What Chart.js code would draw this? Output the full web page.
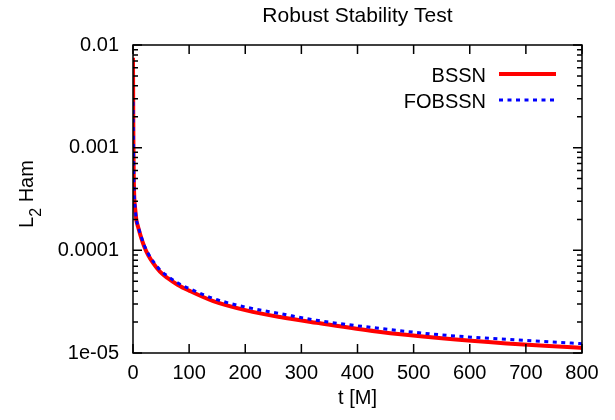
<!DOCTYPE html>
<html>
<head>
<meta charset="utf-8">
<script src="https://cdn.jsdelivr.net/npm/chart.js@4.4.0/dist/chart.umd.min.js"></script>
<style>
    html, body { margin: 0; padding: 0; background: #fff; }
</style>
</head>
<body>
<canvas id="stabilityChart" width="615" height="420"></canvas>
<script>

/* ==========================
   DATA
========================== */

const timeValues = [0, 0.3, 0.7, 1.2, 2, 4, 6, 9, 14, 20, 27, 36, 48, 62, 80, 100, 143, 202, 262, 327, 434, 550, 666, 790, 800];

const bssnValues = [7.5e-3, 3e-3, 1.2e-3, 6e-4, 3.6e-4, 2.5e-4, 1.97e-4, 1.7e-4, 1.36e-4, 1.09e-4, 9.0e-5, 7.5e-5, 6.2e-5, 5.35e-5, 4.6e-5, 4.05e-5, 3.2e-5, 2.6e-5, 2.24e-5, 1.97e-5, 1.62e-5, 1.39e-5, 1.24e-5, 1.13e-5, 1.12e-5];

const fobssnValues = [2.8e-3, 2e-3, 1.2e-3, 6.2e-4, 3.7e-4, 2.55e-4, 2.0e-4, 1.73e-4, 1.39e-4, 1.12e-4, 9.3e-5, 7.8e-5, 6.45e-5, 5.6e-5, 4.8e-5, 4.25e-5, 3.4e-5, 2.79e-5, 2.42e-5, 2.08e-5, 1.75e-5, 1.5e-5, 1.36e-5, 1.24e-5, 1.23e-5];

const seriesNames = ["BSSN", "FOBSSN"];

const xTickValues = [0, 100, 200, 300, 400, 500, 600, 700, 800];

const yTickValues = [1e-5, 1e-4, 1e-3, 1e-2];
const yTickLabels = ["1e-05", "0.0001", "0.001", "0.01"];

const FONT = "'Liberation Sans', Arial, sans-serif";

function toPoints(values) {
    return timeValues.map((t, i) => ({ x: t, y: values[i] }));
}

/* ==========================
   FRAME, TICKS, LEGEND, TITLES
========================== */

const framePlugin = {

    id: "frame",

    afterDatasetsDraw(chart) {

        const ctx = chart.ctx;
        const area = chart.chartArea;
        const xs = chart.scales.x;
        const ys = chart.scales.y;

        ctx.save();
        ctx.strokeStyle = "#000";
        ctx.lineWidth = 1.5;
        ctx.setLineDash([]);

        ctx.strokeRect(area.left, area.top, area.right - area.left, area.bottom - area.top);

        ctx.beginPath();

        xTickValues.forEach(v => {
            const px = xs.getPixelForValue(v);
            ctx.moveTo(px, area.bottom);
            ctx.lineTo(px, area.bottom - 9);
            ctx.moveTo(px, area.top);
            ctx.lineTo(px, area.top + 9);
        });

        yTickValues.forEach(v => {
            const py = ys.getPixelForValue(v);
            ctx.moveTo(area.left, py);
            ctx.lineTo(area.left + 9, py);
            ctx.moveTo(area.right, py);
            ctx.lineTo(area.right - 9, py);
        });

        for (let d = 0; d < yTickValues.length - 1; d++) {
            for (let m = 2; m <= 9; m++) {
                const py = ys.getPixelForValue(yTickValues[d] * m);
                ctx.moveTo(area.left, py);
                ctx.lineTo(area.left + 5, py);
                ctx.moveTo(area.right, py);
                ctx.lineTo(area.right - 5, py);
            }
        }

        ctx.stroke();

        // legend
        ctx.font = "20px " + FONT;
        ctx.fillStyle = "#000";
        ctx.textAlign = "right";
        ctx.textBaseline = "alphabetic";

        chart.data.datasets.forEach((ds, i) => {
            const y = 74 + i * 26;
            ctx.fillText(ds.label, 486, y + 7.5);
            ctx.strokeStyle = ds.borderColor;
            ctx.lineWidth = ds.borderWidth;
            ctx.setLineDash(ds.borderDash || []);
            ctx.beginPath();
            ctx.moveTo(499, y);
            ctx.lineTo(556, y);
            ctx.stroke();
        });

        // title
        ctx.setLineDash([]);
        ctx.textAlign = "center";
        ctx.font = "21px " + FONT;
        ctx.fillText("Robust Stability Test", (area.left + area.right) / 2, 22);

        // y axis title with subscript
        const partA = "L";
        const partB = "2";
        const partC = " Ham";
        const bigFont = "20px " + FONT;
        const smallFont = "16px " + FONT;

        ctx.font = bigFont;
        const wA = ctx.measureText(partA).width;
        const wC = ctx.measureText(partC).width;
        ctx.font = smallFont;
        const wB = ctx.measureText(partB).width;
        const total = wA + wB + wC;

        ctx.translate(33, 194);
        ctx.rotate(-Math.PI / 2);
        ctx.textAlign = "left";

        let pos = -total / 2;
        ctx.font = bigFont;
        ctx.fillText(partA, pos, 0);
        pos += wA;
        ctx.font = smallFont;
        ctx.fillText(partB, pos, 8);
        pos += wB;
        ctx.font = bigFont;
        ctx.fillText(partC, pos, 0);

        ctx.restore();
    }
};

/* ==========================
   CHART
========================== */

const canvas =
    document.getElementById(
        "stabilityChart"
    );

const stabilityChart =
    new Chart(canvas, {

        type: "line",

        data: {

            datasets: [
                {
                    label: seriesNames[0],
                    data: toPoints(bssnValues),
                    borderColor: "#ff0000",
                    borderWidth: 4,
                    pointRadius: 0,
                    cubicInterpolationMode: "monotone",
                    order: 1
                },
                {
                    label: seriesNames[1],
                    data: toPoints(fobssnValues),
                    borderColor: "#0000ff",
                    borderWidth: 3,
                    borderDash: [4, 4.5],
                    pointRadius: 0,
                    cubicInterpolationMode: "monotone",
                    order: 0
                }
            ]
        },

        options: {

            responsive: false,
            animation: false,
            devicePixelRatio: 1,

            layout: {
                padding: { top: 45, right: 33, bottom: 0, left: 0 }
            },

            plugins: {
                legend: { display: false },
                title: { display: false },
                tooltip: { enabled: false }
            },

            scales: {

                x: {
                    type: "linear",
                    min: 0,
                    max: 800,
                    afterBuildTicks: scale => {
                        scale.ticks = xTickValues.map(v => ({ value: v }));
                    },
                    afterFit: scale => { scale.height = 67; },
                    grid: { display: false, drawTicks: false },
                    border: { display: false },
                    ticks: {
                        color: "#000",
                        padding: 8,
                        maxRotation: 0,
                        font: { family: FONT, size: 20 }
                    },
                    title: {
                        display: true,
                        text: "t [M]",
                        color: "#000",
                        padding: { top: 0, bottom: 10 },
                        font: { family: FONT, size: 20 }
                    }
                },

                y: {
                    type: "logarithmic",
                    min: 1e-5,
                    max: 1e-2,
                    afterBuildTicks: scale => {
                        scale.ticks = yTickValues.map(v => ({ value: v }));
                    },
                    afterFit: scale => { scale.width = 133; },
                    grid: { display: false, drawTicks: false },
                    border: { display: false },
                    ticks: {
                        color: "#000",
                        padding: 14,
                        font: { family: FONT, size: 20 },
                        callback: value => {
                            const idx = yTickValues.findIndex(v => Math.abs(v - value) / v < 1e-6);
                            return idx >= 0 ? yTickLabels[idx] : "";
                        }
                    }
                }
            }
        },

        plugins: [framePlugin]
    });

</script>
</body>
</html>
